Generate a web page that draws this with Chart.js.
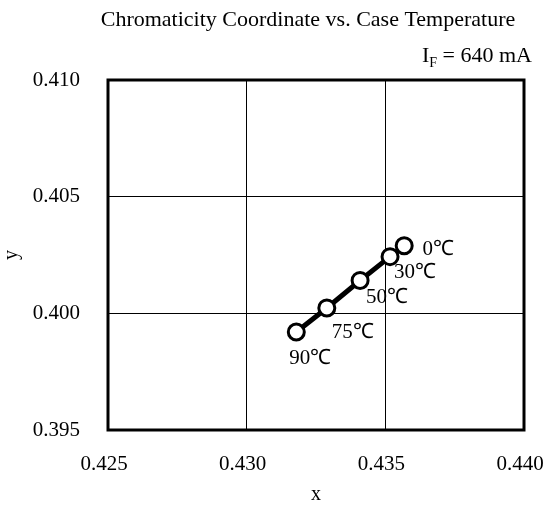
<!DOCTYPE html>
<html>
<head>
<meta charset="utf-8">
<script src="https://cdn.jsdelivr.net/npm/chart.js@4"></script>
<style>
  html, body { margin: 0; padding: 0; background: #fff; }
  #wrap { width: 548px; height: 507px; }
</style>
</head>
<body>
<div id="wrap"><canvas id="grafico" width="548" height="507"></canvas></div>
<script>
const temperaturas = ['0℃', '30℃', '50℃', '75℃', '90℃'];
const valoresX = [0.43568, 0.43517, 0.43409, 0.43289, 0.43179];
const valoresY = [0.40290, 0.40243, 0.40141, 0.40023, 0.39920];
const ticksX = [0.425, 0.430, 0.435, 0.440];
const ticksY = [0.395, 0.400, 0.405, 0.410];

const fonte = 'Liberation Serif';

// deslocamento dos rotulos de temperatura em relacao ao ponto
const deslocRotulos = [[34, 4], [25, 16], [27, 17], [26, 25], [14, 26]];

const moldura = {
    id: 'moldura',
    beforeDatasetsDraw(chart) {
        const a = chart.chartArea;
        const ctx = chart.ctx;
        ctx.save();
        ctx.strokeStyle = '#000';
        ctx.lineWidth = 3;
        ctx.strokeRect(a.left, a.top, a.right - a.left, a.bottom - a.top);
        ctx.restore();
    }
};

const textos = {
    id: 'textos',
    afterDraw(chart) {
        const ctx = chart.ctx;
        ctx.save();
        ctx.fillStyle = '#000';
        ctx.textBaseline = 'middle';

        ctx.font = '22px "' + fonte + '"';
        ctx.textAlign = 'center';
        ctx.fillText('Chromaticity Coordinate vs. Case Temperature', 308, 20);

        // I_F = 640 mA
        const resto = ' = 640 mA';
        ctx.font = '22px "' + fonte + '"';
        const wResto = ctx.measureText(resto).width;
        const wI = ctx.measureText('I').width;
        ctx.font = '14px "' + fonte + '"';
        const wF = ctx.measureText('F').width;
        let x = 532 - wResto - wF - wI;
        ctx.textAlign = 'left';
        ctx.font = '22px "' + fonte + '"';
        ctx.fillText('I', x, 56);
        ctx.font = '14px "' + fonte + '"';
        ctx.fillText('F', x + wI, 63);
        ctx.font = '22px "' + fonte + '"';
        ctx.fillText(resto, x + wI + wF, 56);

        // rotulos dos pontos
        const meta = chart.getDatasetMeta(0);
        ctx.font = '21px "' + fonte + '"';
        ctx.textAlign = 'center';
        meta.data.forEach((p, i) => {
            ctx.fillText(temperaturas[i], p.x + deslocRotulos[i][0], p.y + deslocRotulos[i][1]);
        });
        ctx.restore();
    }
};

const ctx = document.getElementById('grafico').getContext('2d');

new Chart(ctx, {
    type: 'scatter',
    data: {
        datasets: [{
            data: valoresX.map((v, i) => ({ x: v, y: valoresY[i] })),
            showLine: true,
            borderColor: '#000',
            borderWidth: 5,
            pointRadius: 8,
            pointHoverRadius: 8,
            pointBackgroundColor: '#fff',
            pointBorderColor: '#000',
            pointBorderWidth: 3
        }]
    },
    options: {
        responsive: false,
        animation: false,
        devicePixelRatio: 1,
        layout: { padding: { top: 80, right: 24, left: 0, bottom: 0 } },
        plugins: {
            legend: { display: false },
            tooltip: { enabled: false }
        },
        scales: {
            x: {
                type: 'linear',
                min: ticksX[0],
                max: ticksX[ticksX.length - 1],
                afterBuildTicks(scale) { scale.ticks = ticksX.map(v => ({ value: v })); },
                afterFit(scale) {
                    scale.height = 77;
                    scale.paddingLeft = 0;
                    scale.paddingRight = 0;
                },
                grid: { color: '#000', lineWidth: 1, drawTicks: false },
                border: { display: false },
                ticks: {
                    color: '#000',
                    padding: 22,
                    labelOffset: -4,
                    maxRotation: 0,
                    font: { family: fonte, size: 21 },
                    callback: v => v.toFixed(3)
                },
                title: {
                    display: true,
                    text: 'x',
                    color: '#000',
                    padding: { top: 0, bottom: 0 },
                    font: { family: fonte, size: 20 }
                }
            },
            y: {
                type: 'linear',
                min: ticksY[0],
                max: ticksY[ticksY.length - 1],
                afterBuildTicks(scale) { scale.ticks = ticksY.map(v => ({ value: v })); },
                afterFit(scale) {
                    scale.width = 108;
                    scale.paddingTop = 0;
                    scale.paddingBottom = 0;
                },
                grid: { color: '#000', lineWidth: 1, drawTicks: false },
                border: { display: false },
                ticks: {
                    color: '#000',
                    padding: 28,
                    font: { family: fonte, size: 21 },
                    callback: v => v.toFixed(3)
                },
                title: {
                    display: true,
                    text: 'y',
                    color: '#000',
                    padding: { top: 0, bottom: 0 },
                    font: { family: fonte, size: 20 }
                }
            }
        }
    },
    plugins: [moldura, textos]
});
</script>
</body>
</html>
